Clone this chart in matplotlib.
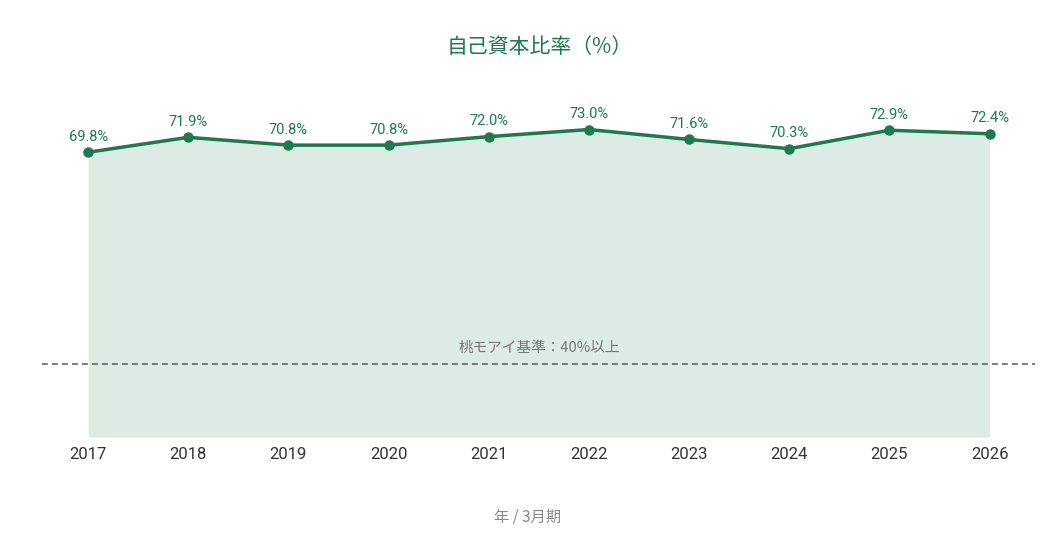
import matplotlib
matplotlib.use("Agg")
from matplotlib import pyplot as plt

plt.rcParams['font.family'] = ['Roboto', 'Noto Sans CJK JP', 'DejaVu Sans']

years = [2017, 2018, 2019, 2020, 2021, 2022, 2023, 2024, 2025, 2026]
ratio = [69.8, 71.9, 70.8, 70.8, 72.0, 73.0, 71.6, 70.3, 72.9, 72.4]
baseline = 40
baseline_label = "桃モアイ基準：40%以上"
title = "自己資本比率（%）"
xlabel = "年 / 3月期"

green = "#1b7a4e"
fill = "#dcebe3"
ymin, ymax = 29.7, 80

fig = plt.figure(figsize=(10.56, 5.39), dpi=100)
ax = fig.add_axes([0.0398, 0.189, 0.940, 0.663])

ax.fill_between(years, ratio, ymin, color=fill, linewidth=0, zorder=1)
ax.plot(years, ratio, color=green, linewidth=2.5, marker="o", markersize=6.5, zorder=3)
for x, y in zip(years, ratio):
    ax.annotate(f"{y:.1f}%", (x, y), xytext=(0, 6), textcoords="offset points",
                ha="center", va="bottom", fontsize=10.5, color=green)

ax.axhline(baseline, color="#666666", linestyle=(0, (3.5, 2.5)), linewidth=1.2, zorder=2)
ax.text((years[0] + years[-1]) / 2, baseline + 1.2, baseline_label, ha="center",
        va="bottom", fontsize=10.5, color="#777777",
        family=['Noto Sans CJK JP', 'DejaVu Sans'])

ax.set_xlim(2016.54, 2026.45)
ax.set_ylim(ymin, ymax)
ax.set_xticks(years)
ax.set_xticklabels([str(y) for y in years], fontsize=12, color="#333333")
ax.tick_params(axis="x", length=0, pad=7)
ax.set_yticks([])
for s in ax.spines.values():
    s.set_visible(False)

fig.text(0.511, 0.912, title, ha="center", va="center", fontsize=15, color=green,
         family=['Noto Sans CJK JP', 'DejaVu Sans'])
fig.text(0.5, 0.04, xlabel, ha="center", va="center", fontsize=11, color="#888888",
         family=['Noto Sans CJK JP', 'DejaVu Sans'])

fig.savefig("out.png", dpi=100)
